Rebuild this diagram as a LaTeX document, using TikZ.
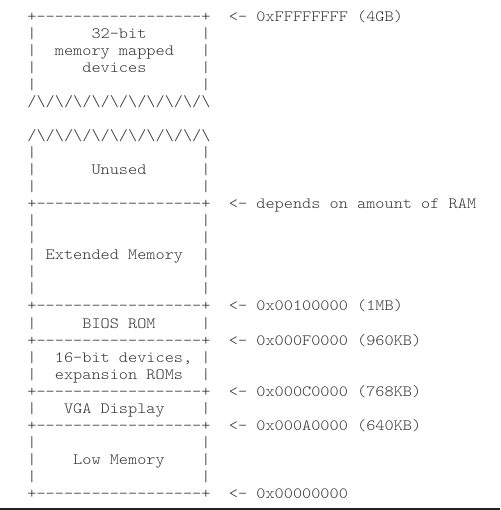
\documentclass[tikz,border=0pt]{standalone}
\usepackage{fontspec}
\setmonofont{lmmonolt10-regular}[Extension=.otf, FakeStretch=1.111]
\usepackage{tikz}

\definecolor{ink}{HTML}{333333}
\definecolor{edge}{HTML}{222222}

\begin{document}
\begin{tikzpicture}[
    x=1pt, y=1pt,
    every node/.style={font=\ttfamily\fontsize{15.7}{17}\selectfont, text=ink},
    row/.style={anchor=base west, inner sep=0pt, outer sep=0pt},
    addr/.style={row}
]
\useasboundingbox (0,0) rectangle (500,510);
\fill[edge] (0,0) rectangle (500,1.6);

% one unit = one character cell, rows counted downwards
\begin{scope}[x=9.16pt, y=-17.04pt, shift={(27.4pt,488.7pt)}]

% ==================== 32-bit region ====================
\node[row] (top)    at (0,0) {+{-}{-}{-}{-}{-}{-}{-}{-}{-}{-}{-}{-}{-}{-}{-}{-}{-}{-}+};
\node[row] (mmioa)  at (0,1) {|~~~~~~32-bit~~~~~~|};
\node[row] (mmiob)  at (0,2) {|~~memory~mapped~~~|};
\node[row] (mmioc)  at (0,3) {|~~~~~devices~~~~~~|};
\node[row] (cutup)  at (0,5) {/\textbackslash/\textbackslash/\textbackslash/\textbackslash/\textbackslash/\textbackslash/\textbackslash/\textbackslash/\textbackslash/\textbackslash};
\node[row] (cutlow) at (0,7) {/\textbackslash/\textbackslash/\textbackslash/\textbackslash/\textbackslash/\textbackslash/\textbackslash/\textbackslash/\textbackslash/\textbackslash};

% ==================== region contents ====================
\node[row] (unused) at (0,9)  {|~~~~~~Unused~~~~~~|};
\node[row] (extmem) at (0,14) {|~Extended~Memory~~|};
\node[row] (bios)   at (0,18) {|~~~~~BIOS~ROM~~~~~|};
\node[row] (isaa)   at (0,20) {|~~16-bit~devices,~|};
\node[row] (isab)   at (0,21) {|~~expansion~ROMs~~|};
\node[row] (vga)    at (0,23) {|~~~VGA~Display~~~~|};
\node[row] (lowmem) at (0,26) {|~~~~Low~Memory~~~~|};

% empty rows of the box
\foreach \r in {4,8,10,12,13,15,16,25,27} {
  \node[row] (side\r) at (0,\r) {|~~~~~~~~~~~~~~~~~~|};
}

% boundaries between regions
\foreach \r in {11,17,19,22,24,28} {
  \node[row] (cut\r) at (0,\r) {+{-}{-}{-}{-}{-}{-}{-}{-}{-}{-}{-}{-}{-}{-}{-}{-}{-}{-}+};
}

% ==================== addresses ====================
\node[addr] (a4gb)  at (22,0)  {<{-}~0xFFFFFFFF~(4GB)};
\node[addr] (aram)  at (22,11) {<{-}~depends~on~amount~of~RAM};
\node[addr] (a1mb)  at (22,17) {<{-}~0x00100000~(1MB)};
\node[addr] (a960)  at (22,19) {<{-}~0x000F0000~(960KB)};
\node[addr] (a768)  at (22,22) {<{-}~0x000C0000~(768KB)};
\node[addr] (a640)  at (22,24) {<{-}~0x000A0000~(640KB)};
\node[addr] (azero) at (22,28) {<{-}~0x00000000};

\end{scope}
\end{tikzpicture}
\end{document}
